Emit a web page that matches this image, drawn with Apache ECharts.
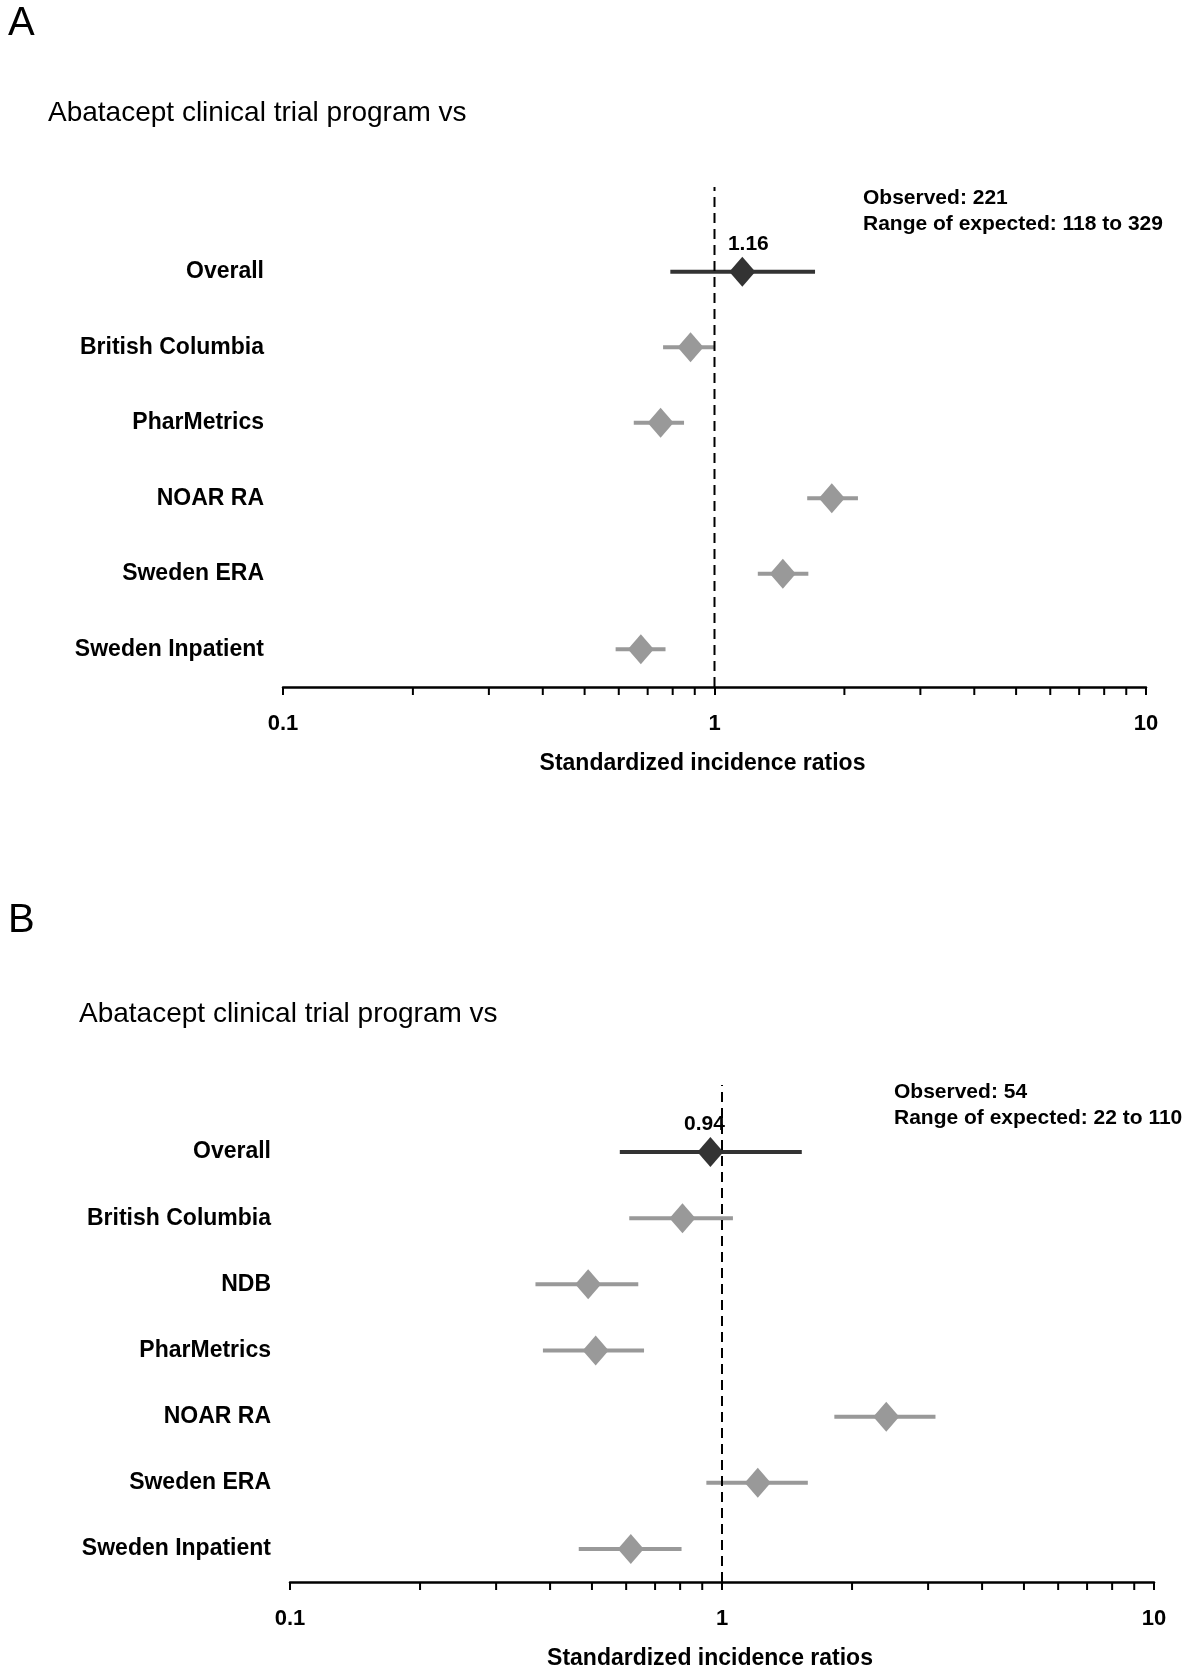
<!DOCTYPE html>
<html>
<head>
<meta charset="utf-8">
<title>Abatacept SIR forest plot</title>
<script src="https://cdn.jsdelivr.net/npm/echarts@6/dist/echarts.min.js"></script>
<style>
  html, body { margin: 0; padding: 0; background: #fff; }
  #chart { width: 1200px; height: 1675px; }
</style>
</head>
<body>
<div id="chart"></div>
<script>
// ---- panel A data ----
const rowsA = ['Overall', 'British Columbia', 'PharMetrics', 'NOAR RA', 'Sweden ERA', 'Sweden Inpatient']
const sirA = [1.16, 0.88, 0.75, 1.87, 1.44, 0.675]
const lowA = [0.79, 0.76, 0.65, 1.64, 1.26, 0.59]
const highA = [1.71, 1.00, 0.85, 2.15, 1.65, 0.77]

// ---- panel B data ----
const rowsB = ['Overall', 'British Columbia', 'NDB', 'PharMetrics', 'NOAR RA', 'Sweden ERA', 'Sweden Inpatient']
const sirB = [0.94, 0.81, 0.49, 0.51, 2.40, 1.21, 0.615]
const lowB = [0.58, 0.61, 0.37, 0.385, 1.82, 0.92, 0.466]
const highB = [1.53, 1.06, 0.64, 0.66, 3.12, 1.58, 0.806]

// axis ticks between the decades
const minorTicks = [0.2, 0.3, 0.4, 0.5, 0.6, 0.7, 0.8, 0.9, 2, 3, 4, 5, 6, 7, 8, 9]
const refLine = [1, 1]

const FONT = '"Liberation Sans", Arial, sans-serif'
const DARK = '#333333'
const GREY = '#999999'

const chart = echarts.init(document.getElementById('chart'))

// x axis shared look: log scale 0.1 .. 10
function logAxis (gridIndex, show) {
  return {
    type: 'log', logBase: 10, min: 0.1, max: 10, gridIndex: gridIndex, show: show,
    name: 'Standardized incidence ratios', nameLocation: 'middle', nameGap: 65,
    nameTextStyle: { fontFamily: FONT, fontSize: 23, fontWeight: 'bold', color: '#000', padding: [0, 24, 0, 0] },
    axisLine: { show: true, onZero: false, lineStyle: { color: '#000', width: 2.5 } },
    axisTick: { show: true, length: 8, lineStyle: { color: '#000', width: 2 } },
    axisLabel: { fontFamily: FONT, fontSize: 22, fontWeight: 'bold', color: '#000', margin: 26 },
    splitLine: { show: false }
  }
}

function catAxis (gridIndex, rows) {
  return {
    type: 'category', gridIndex: gridIndex, data: rows, inverse: true,
    axisLine: { show: false }, axisTick: { show: false },
    axisLabel: { fontFamily: FONT, fontSize: 23, fontWeight: 'bold', color: '#000', margin: 19 }
  }
}

// series for one panel: CI lines, minor ticks, diamonds, dashed line at 1
function panelSeries (gi, ogi, sir, low, high, labelOffset) {
  const ci = low.map((l, i) => ({ value: [l, high[i], i], itemStyle: { color: i === 0 ? DARK : GREY } }))
  const pts = sir.map((v, i) => ({
    value: [v, i],
    itemStyle: { color: i === 0 ? DARK : GREY, opacity: 1 },
    label: { show: i === 0 }
  }))
  return [
    {
      type: 'custom', xAxisIndex: gi, yAxisIndex: gi, encode: { x: [0, 1], y: 2 },
      data: ci, z: 2,
      renderItem (params, api) {
        const a = api.coord([api.value(0), api.value(2)])
        const b = api.coord([api.value(1), api.value(2)])
        return {
          type: 'line',
          shape: { x1: a[0], y1: a[1], x2: b[0], y2: b[1] },
          style: { stroke: api.visual('color'), lineWidth: 4 }
        }
      }
    },
    {
      type: 'custom', xAxisIndex: gi, yAxisIndex: gi, encode: { x: 0, y: 1 },
      data: minorTicks.map(v => [v, 0]), clip: false, silent: true,
      renderItem (params, api) {
        const cs = params.coordSys
        const x = api.coord([api.value(0), 0])[0]
        const y = cs.y + cs.height
        return {
          type: 'line',
          shape: { x1: x, y1: y, x2: x, y2: y + 8 },
          style: { stroke: '#000', lineWidth: 2 }
        }
      }
    },
    {
      type: 'scatter', xAxisIndex: gi, yAxisIndex: gi, data: pts, z: 3,
      symbol: 'diamond', symbolSize: [26, 30],
      itemStyle: { opacity: 1 },
      label: {
        position: 'top', distance: 2, offset: [labelOffset, 0],
        fontFamily: FONT, fontSize: 21, fontWeight: 'bold', color: '#000',
        formatter: p => p.value[0].toFixed(2)
      }
    },
    {
      type: 'line', xAxisIndex: ogi, yAxisIndex: ogi, z: 5,
      data: refLine.map((v, i) => [v, i]), symbol: 'none', silent: true,
      lineStyle: { color: '#000', width: 2, type: [10, 6] }
    }
  ]
}

function text (x, y, str, size, weight) {
  return {
    type: 'text', left: x, top: y,
    style: { text: str, fontFamily: FONT, fontSize: size, fontWeight: weight || 'normal', fill: '#000', lineHeight: 26 }
  }
}

chart.setOption({
  animation: false,
  backgroundColor: '#fff',
  grid: [
    { left: 283, right: 54, top: 234, height: 453 },   // A data
    { left: 283, right: 54, top: 187, height: 500 },   // A reference line
    { left: 290, right: 46, top: 1119, height: 463 },  // B data
    { left: 290, right: 46, top: 1085, height: 497 }   // B reference line
  ],
  xAxis: [logAxis(0, true), logAxis(1, false), logAxis(2, true), logAxis(3, false)],
  yAxis: [
    catAxis(0, rowsA),
    { type: 'value', gridIndex: 1, min: 0, max: 1, show: false },
    catAxis(2, rowsB),
    { type: 'value', gridIndex: 3, min: 0, max: 1, show: false }
  ],
  series: [
    ...panelSeries(0, 1, sirA, lowA, highA, 6),
    ...panelSeries(2, 3, sirB, lowB, highB, -6)
  ],
  graphic: [
    text(8, 4, 'A', 40),
    text(48, 99, 'Abatacept clinical trial program vs', 28),
    text(863, 185, 'Observed: 221\nRange of expected: 118 to 329', 21, 'bold'),
    text(8, 901, 'B', 40),
    text(79, 1000, 'Abatacept clinical trial program vs', 28),
    text(894, 1079, 'Observed: 54\nRange of expected: 22 to 110', 21, 'bold')
  ]
})
</script>
</body>
</html>
